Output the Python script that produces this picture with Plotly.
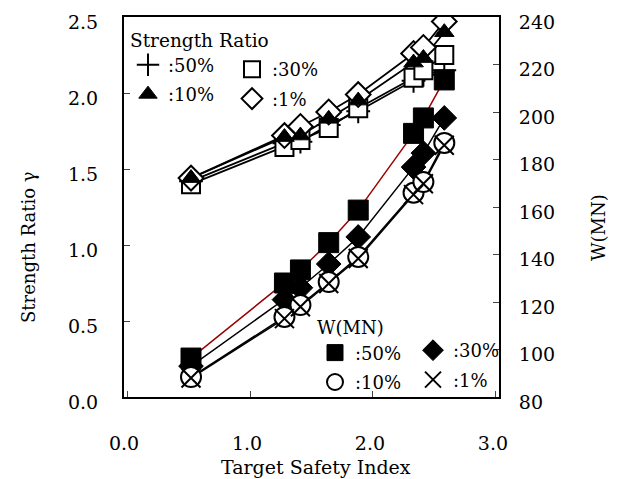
import plotly.graph_objects as go

# Target safety index (x)
beta = [0.52, 1.28, 1.41, 1.64, 1.88, 2.33, 2.41, 2.58]

# Strength ratio gamma (left axis)
sr_labels = [":50%", ":30%", ":10%", ":1%"]
sr_50 = [1.42, 1.67, 1.68, 1.79, 1.88, 2.08, 2.12, 2.15]
sr_30 = [1.40, 1.645, 1.69, 1.77, 1.90, 2.10, 2.15, 2.25]
sr_10 = [1.44, 1.71, 1.72, 1.83, 1.95, 2.20, 2.23, 2.40]
sr_01 = [1.44, 1.72, 1.78, 1.875, 1.99, 2.26, 2.30, 2.47]

# Weight W (MN) (right axis)
w_labels = [":50%", ":30%", ":10%", ":1%"]
w_50 = [96.4, 128.0, 133.5, 145.0, 158.7, 191.0, 197.5, 213.5]
w_30 = [93.0, 121.0, 126.0, 136.0, 147.4, 176.8, 182.7, 197.5]
w_10 = [88.4, 113.7, 118.7, 128.4, 139.0, 166.0, 170.5, 187.0]
w_01 = [88.0, 113.0, 118.0, 127.8, 138.3, 165.2, 169.8, 186.0]

y_ticks = [0.0, 0.5, 1.0, 1.5, 2.0, 2.5]
y2_ticks = [80, 100, 120, 140, 160, 180, 200, 220, 240]
x_ticks = [0.0, 1.0, 2.0, 3.0]

FONT = "DejaVu Serif"
BLACK = "#000000"
RED = "#9b0000"

fig = go.Figure()

# lines (under all markers)
for ys in [sr_50, sr_30, sr_10, sr_01]:
    fig.add_trace(go.Scatter(x=beta, y=ys, mode="lines", showlegend=False,
                             line=dict(color=BLACK, width=1.8), hoverinfo="skip"))
for ys, col in [(w_50, RED), (w_30, BLACK), (w_10, BLACK), (w_01, BLACK)]:
    fig.add_trace(go.Scatter(x=beta, y=ys, mode="lines", showlegend=False, yaxis="y2",
                             line=dict(color=col, width=1.5), hoverinfo="skip"))

# strength ratio markers
sr_styles = [
    (sr_50, sr_labels[0], dict(symbol="cross-thin", size=17, color=BLACK, line=dict(color=BLACK, width=2)), "legend", 1),
    (sr_30, sr_labels[1], dict(symbol="square", size=18, color="white", line=dict(color=BLACK, width=2)), "legend2", 1),
    (sr_01, sr_labels[3], dict(symbol="diamond", size=19, color="white", line=dict(color=BLACK, width=2)), "legend2", 2),
    (sr_10, sr_labels[2], dict(symbol="triangle-up", size=17, color=BLACK, line=dict(color=BLACK, width=1)), "legend", 2),
]
for i, (ys, name, mk, lg, rk) in enumerate(sr_styles):
    fig.add_trace(go.Scatter(x=beta, y=ys, mode="markers", name=name, marker=mk,
                             legend=lg, legendgroup="s%d" % i, legendrank=rk))

# weight markers
w_styles = [
    (w_30, w_labels[1], dict(symbol="diamond", size=19, color=BLACK, line=dict(color=BLACK, width=1)), "legend4", 1),
    (w_50, w_labels[0], dict(symbol="square", size=20, color=BLACK, line=dict(color=BLACK, width=1)), "legend3", 1),
    (w_10, w_labels[2], dict(symbol="circle", size=20, color="white", line=dict(color=BLACK, width=2)), "legend3", 2),
    (w_01, w_labels[3], dict(symbol="x-thin", size=19, color=BLACK, line=dict(color=BLACK, width=2)), "legend4", 2),
]
for i, (ys, name, mk, lg, rk) in enumerate(w_styles):
    fig.add_trace(go.Scatter(x=beta, y=ys, mode="markers", name=name, marker=mk, yaxis="y2",
                             legend=lg, legendgroup="w%d" % i, legendrank=rk))

# page body adds an 8px offset; work in screen coordinates and compensate
OFF = 8
SW, SH = 620, 479
W, H = SW - OFF, SH - OFF
L, R, T, B = 124 - OFF, 499 - OFF, 17 - OFF, 397 - OFF

def px(x):
    return (x - OFF - L) / (R - L)

def py(y):
    return (B - (y - OFF)) / (B - T)

leg_common = dict(bgcolor="rgba(0,0,0,0)", borderwidth=0, font=dict(family=FONT, size=18, color=BLACK),
                  xanchor="left", yanchor="top", tracegroupgap=3, orientation="v")

axis_common = dict(ticks="inside", ticklen=6, tickwidth=1, tickcolor="#444", showline=True,
                   linecolor=BLACK, linewidth=2, showgrid=False, zeroline=False, automargin=False,
                   ticklabeloverflow="allow")

fig.update_layout(
    template="none",
    width=W, height=H,
    margin=dict(l=L, r=W - R, t=T, b=H - B, autoexpand=False),
    paper_bgcolor="white", plot_bgcolor="white",
    font=dict(family=FONT, size=19, color=BLACK),
    xaxis=dict(**axis_common, range=[-0.025, 3.025], tickvals=x_ticks, tickformat=".1f", mirror=True,
               ticklabelstandoff=28, ticklabelshift=-3),
    yaxis=dict(**axis_common, range=[0, 2.5], tickvals=y_ticks, tickformat=".1f", mirror=True,
               ticklabelstandoff=20, ticklabelshift=5),
    yaxis2=dict(**axis_common, range=[80, 240], tickvals=y2_ticks, overlaying="y", side="right",
                ticklabelstandoff=14, ticklabelshift=5),
    legend=dict(**leg_common, x=px(128), y=py(22.5),
                title=dict(text="Strength Ratio", font=dict(family=FONT, size=18.5))),
    legend2=dict(**leg_common, x=px(232), y=py(51)),
    legend3=dict(**leg_common, x=px(315), y=py(311),
                 title=dict(text="W(MN)", font=dict(family=FONT, size=18))),
    legend4=dict(**leg_common, x=px(413), y=py(332)),
    annotations=[
        dict(text="Strength Ratio γ", x=px(28), y=py(247), xref="paper", yref="paper", textangle=-90,
             showarrow=False, font=dict(family=FONT, size=18), xanchor="center", yanchor="middle"),
        dict(text="W(MN)", x=px(598), y=py(228), xref="paper", yref="paper", textangle=-90,
             showarrow=False, font=dict(family=FONT, size=18), xanchor="center", yanchor="middle"),
        dict(text="Target Safety Index", x=px(316), y=py(467), xref="paper", yref="paper",
             showarrow=False, font=dict(family=FONT, size=19), xanchor="center", yanchor="middle"),
    ],
)

fig.write_html("out.html")
